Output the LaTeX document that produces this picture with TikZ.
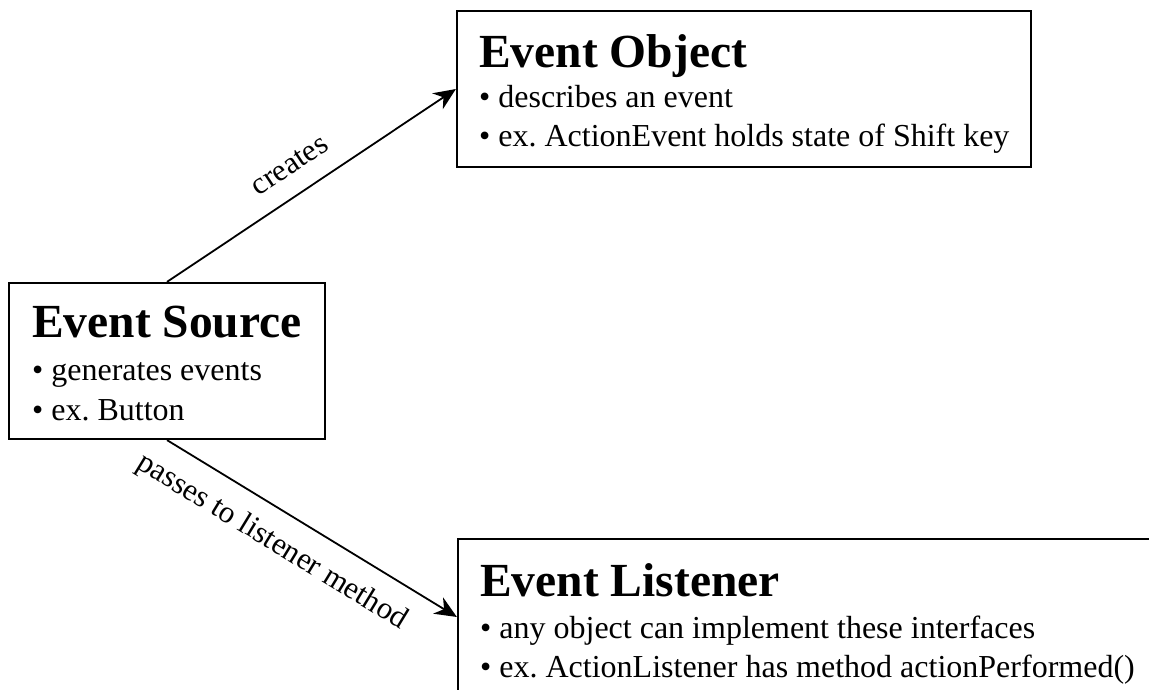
\documentclass[tikz,border=0pt]{standalone}
\usepackage{fontspec}
\setmainfont{Liberation Serif}
\usetikzlibrary{arrows.meta}
\frenchspacing

\tikzset{
  box/.style={draw, line width=2.2pt, rectangle, inner sep=0pt},
  title/.style={anchor=base west, inner sep=0pt, font=\fontsize{47.5}{57}\selectfont\bfseries},
  item/.style={anchor=base west, inner sep=0pt, font=\fontsize{32}{38}\selectfont},
  link/.style={line width=1.8pt, -{Stealth[length=22pt, width=19pt, inset=7pt]}},
  lbl/.style={sloped, anchor=base, inner sep=0pt, font=\fontsize{31}{37}\selectfont}
}

\begin{document}
\begin{tikzpicture}[x=1pt, y=-1pt]
  \useasboundingbox (0,0) rectangle (1149,690);
  \begin{scope}
    \clip (0,0) rectangle (1149,690);

    % the three boxes
    \node[box, minimum width=316pt, minimum height=156pt] (src) at (167,361) {};
    \node[box, minimum width=574pt, minimum height=156pt] (obj) at (744,89) {};
    \node[box, minimum width=707pt, minimum height=156pt] (lis) at (811.5,617) {};

    % Event Source
    \node[title] (srcT) at (32,337) {Event Source};
    \node[item]  (srcA) at (32,380) {• generates events};
    \node[item]  (srcB) at (32,420) {• ex. Button};

    % Event Object
    \node[title] (objT) at (479,68) {Event Object};
    \node[item]  (objA) at (479,108) {• describes an event};
    \node[item]  (objB) at (479,147) {• ex. ActionEvent holds state of Shift key};

    % Event Listener
    \node[title] (lisT) at (480,596) {Event Listener};
    \node[item]  (lisA) at (480,638) {• any object can implement these interfaces};
    \node[item]  (lisB) at (480,677) {• ex. ActionListener has method actionPerformed()};

    % connectors
    \draw[link] (src.north) -- (obj.west)
      node[lbl, pos=0.48, yshift=20pt] (lc) {creates};
    \draw[link] (src.south) -- (lis.west)
      node[lbl, pos=0.42, yshift=-40pt] (lp) {passes to listener method};
  \end{scope}
\end{tikzpicture}
\end{document}
